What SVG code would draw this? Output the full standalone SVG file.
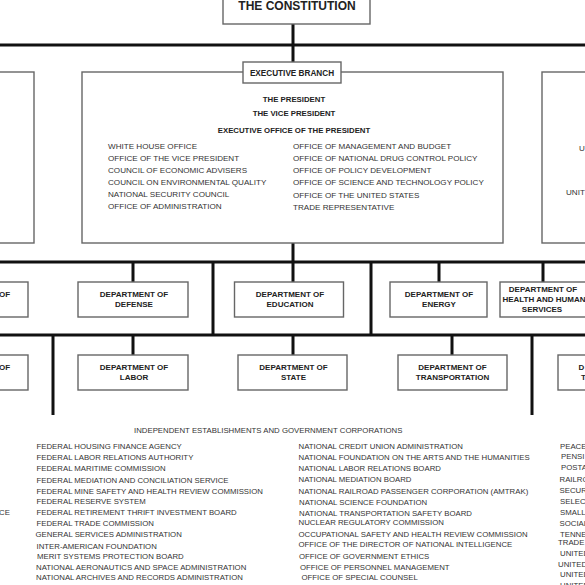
<svg xmlns="http://www.w3.org/2000/svg" width="585" height="585" viewBox="0 0 585 585">
<style>
.box{fill:#fff;stroke:#666;stroke-width:1.4}
.conn{stroke:#111;stroke-width:3;fill:none}
.b{font-family:"Liberation Sans",Arial,sans-serif;font-weight:bold;fill:#222}
.bc{font-family:"Liberation Sans",Arial,sans-serif;font-weight:bold;fill:#222;font-size:8px;text-anchor:middle}
.t{font-family:"Liberation Sans",Arial,sans-serif;fill:#333;font-size:8.1px}
.s{font-family:"Liberation Sans",Arial,sans-serif;fill:#333;font-size:7.8px}
</style>
<rect width="585" height="585" fill="#fff"/>
<g id="connectors">
<path class="conn" d="M293 24V62M0 45H585M293 243V282M0 262H585M133 262V282M213 262V335M371 262V335M439 262V282M543 262V282M0 335H585M53 335V415M133 335V355M293 335V355M452 335V355M532 335V415"/>
</g>
<g id="constitution">
<rect class="box" x="223" y="-10" width="147" height="34"/>
<text class="b" x="297" y="9.5" font-size="12" text-anchor="middle">THE CONSTITUTION</text>
</g>
<g id="legislative">
<rect class="box" x="-100" y="72" width="134" height="171"/>
</g>
<g id="judicial">
<rect class="box" x="542" y="72" width="150" height="171"/>
<text class="t" x="579" y="151">U</text>
<text class="t" x="566" y="195">UNIT</text>
</g>
<g id="executive">
<rect class="box" x="82" y="72" width="421" height="171"/>
<text class="b" x="294" y="102" font-size="7.8" text-anchor="middle">THE PRESIDENT</text>
<text class="b" x="294" y="116" font-size="7.8" text-anchor="middle">THE VICE PRESIDENT</text>
<text class="b" x="294" y="132.5" font-size="7.8" text-anchor="middle">EXECUTIVE OFFICE OF THE PRESIDENT</text>
<text class="t" x="108" y="149">WHITE HOUSE OFFICE</text>
<text class="t" x="108" y="161">OFFICE OF THE VICE PRESIDENT</text>
<text class="t" x="108" y="173">COUNCIL OF ECONOMIC ADVISERS</text>
<text class="t" x="108" y="185">COUNCIL ON ENVIRONMENTAL QUALITY</text>
<text class="t" x="108" y="197">NATIONAL SECURITY COUNCIL</text>
<text class="t" x="108" y="209">OFFICE OF ADMINISTRATION</text>
<text class="t" x="293" y="149">OFFICE OF MANAGEMENT AND BUDGET</text>
<text class="t" x="293" y="161">OFFICE OF NATIONAL DRUG CONTROL POLICY</text>
<text class="t" x="293" y="173">OFFICE OF POLICY DEVELOPMENT</text>
<text class="t" x="293" y="185">OFFICE OF SCIENCE AND TECHNOLOGY POLICY</text>
<text class="t" x="293" y="198">OFFICE OF THE UNITED STATES</text>
<text class="t" x="293" y="209.5">TRADE REPRESENTATIVE</text>
</g>
<g id="executive-branch-label">
<rect class="box" x="243" y="62" width="98" height="21"/>
<text class="b" x="292" y="76" font-size="8.2" text-anchor="middle">EXECUTIVE BRANCH</text>
</g>
<g id="dept-left-1">
<rect class="box" x="-82" y="282" width="110" height="35"/>
<text class="b" x="-1" y="297" font-size="8">OF</text>
</g>
<g id="dept-defense">
<rect class="box" x="78" y="282" width="110" height="35"/>
<text class="bc" x="134" y="297">DEPARTMENT OF</text>
<text class="bc" x="134" y="307.3">DEFENSE</text>
</g>
<g id="dept-education">
<rect class="box" x="234.5" y="282" width="109" height="35"/>
<text class="bc" x="290" y="297">DEPARTMENT OF</text>
<text class="bc" x="290" y="307.3">EDUCATION</text>
</g>
<g id="dept-energy">
<rect class="box" x="390" y="282" width="97" height="35"/>
<text class="bc" x="439" y="297">DEPARTMENT OF</text>
<text class="bc" x="439" y="307.3">ENERGY</text>
</g>
<g id="dept-hhs">
<rect class="box" x="500" y="282" width="92" height="35"/>
<text class="bc" x="543" y="292">DEPARTMENT OF</text>
<text class="bc" x="544" y="302">HEALTH AND HUMAN</text>
<text class="bc" x="542" y="312">SERVICES</text>
</g>
<g id="dept-left-2">
<rect class="box" x="-82" y="355" width="110" height="35"/>
<text class="b" x="-1" y="370" font-size="8">OF</text>
</g>
<g id="dept-labor">
<rect class="box" x="78" y="355" width="110" height="35"/>
<text class="bc" x="134" y="370">DEPARTMENT OF</text>
<text class="bc" x="134" y="380">LABOR</text>
</g>
<g id="dept-state">
<rect class="box" x="238" y="355" width="109" height="35"/>
<text class="bc" x="293.5" y="370">DEPARTMENT OF</text>
<text class="bc" x="293.5" y="380">STATE</text>
</g>
<g id="dept-transportation">
<rect class="box" x="398" y="355" width="109" height="35"/>
<text class="bc" x="452.5" y="370">DEPARTMENT OF</text>
<text class="bc" x="452.5" y="380">TRANSPORTATION</text>
</g>
<g id="dept-right-2">
<rect class="box" x="558" y="355" width="110" height="35"/>
<text class="b" x="578.5" y="370" font-size="8">D</text>
<text class="b" x="581" y="380" font-size="8">T</text>
</g>
<g id="independent">
<text class="s" x="134" y="433" font-size="7.7">INDEPENDENT ESTABLISHMENTS AND GOVERNMENT CORPORATIONS</text>
<text class="s" x="-1" y="515.2">CE</text>
<text class="s" x="36.5" y="449.3">FEDERAL HOUSING FINANCE AGENCY</text>
<text class="s" x="36.5" y="460.3">FEDERAL LABOR RELATIONS AUTHORITY</text>
<text class="s" x="36.5" y="471.3">FEDERAL MARITIME COMMISSION</text>
<text class="s" x="36.5" y="482.5">FEDERAL MEDIATION AND CONCILIATION SERVICE</text>
<text class="s" x="36.5" y="493.8">FEDERAL MINE SAFETY AND HEALTH REVIEW COMMISSION</text>
<text class="s" x="36.5" y="504.3">FEDERAL RESERVE SYSTEM</text>
<text class="s" x="36.5" y="515.2">FEDERAL RETIREMENT THRIFT INVESTMENT BOARD</text>
<text class="s" x="36.5" y="526.2">FEDERAL TRADE COMMISSION</text>
<text class="s" x="35.5" y="537.2">GENERAL SERVICES ADMINISTRATION</text>
<text class="s" x="36.5" y="548.5">INTER-AMERICAN FOUNDATION</text>
<text class="s" x="37" y="559.3">MERIT SYSTEMS PROTECTION BOARD</text>
<text class="s" x="36" y="569.8">NATIONAL AERONAUTICS AND SPACE ADMINISTRATION</text>
<text class="s" x="36" y="580">NATIONAL ARCHIVES AND RECORDS ADMINISTRATION</text>
<text class="s" x="298.5" y="449.3">NATIONAL CREDIT UNION ADMINISTRATION</text>
<text class="s" x="298.5" y="460.3">NATIONAL FOUNDATION ON THE ARTS AND THE HUMANITIES</text>
<text class="s" x="298.5" y="471.3">NATIONAL LABOR RELATIONS BOARD</text>
<text class="s" x="298.5" y="482.3">NATIONAL MEDIATION BOARD</text>
<text class="s" x="298.5" y="493.5">NATIONAL RAILROAD PASSENGER CORPORATION (AMTRAK)</text>
<text class="s" x="299" y="504.5">NATIONAL SCIENCE FOUNDATION</text>
<text class="s" x="299" y="515.5">NATIONAL TRANSPORTATION SAFETY BOARD</text>
<text class="s" x="298.5" y="525.3">NUCLEAR REGULATORY COMMISSION</text>
<text class="s" x="298.5" y="537">OCCUPATIONAL SAFETY AND HEALTH REVIEW COMMISSION</text>
<text class="s" x="298.5" y="547.3">OFFICE OF THE DIRECTOR OF NATIONAL INTELLIGENCE</text>
<text class="s" x="299" y="559">OFFICE OF GOVERNMENT ETHICS</text>
<text class="s" x="300" y="569.7">OFFICE OF PERSONNEL MANAGEMENT</text>
<text class="s" x="301.5" y="579.7">OFFICE OF SPECIAL COUNSEL</text>
<text class="s" x="298.5" y="589.5">OVERSEAS PRIVATE INVESTMENT CORPORATION</text>
<text class="s" x="560" y="448.5">PEACE</text>
<text class="s" x="561" y="458.5">PENSI</text>
<text class="s" x="561" y="470.3">POSTA</text>
<text class="s" x="559.5" y="481.5">RAILRO</text>
<text class="s" x="559.5" y="492.8">SECUR</text>
<text class="s" x="560" y="503.8">SELEC</text>
<text class="s" x="560" y="514.5">SMALL</text>
<text class="s" x="559.5" y="525.8">SOCIAL</text>
<text class="s" x="560" y="536.8">TENNE</text>
<text class="s" x="558" y="544.5">TRADE</text>
<text class="s" x="560" y="555.5">UNITED</text>
<text class="s" x="558" y="566.5">UNITED</text>
<text class="s" x="560" y="577.3">UNITED</text>
<text class="s" x="560" y="587.8">UNITED</text>
</g>
</svg>
